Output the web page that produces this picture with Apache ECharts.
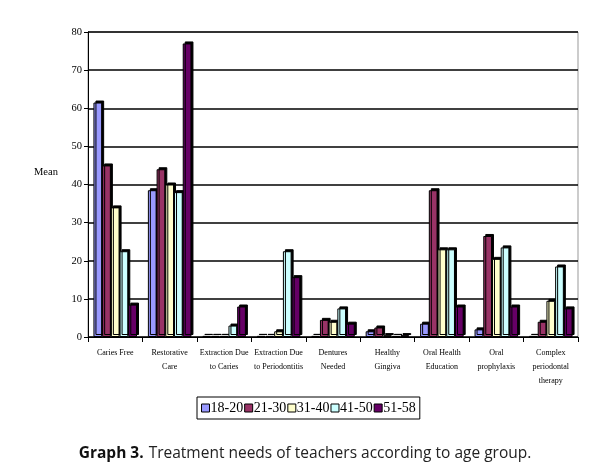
<!DOCTYPE html>
<html><head><meta charset="utf-8">
<script src="https://cdn.jsdelivr.net/npm/echarts@6/dist/echarts.min.js"></script>
<style>html,body{margin:0;padding:0;background:#fff}#c{width:610px;height:472px}</style>
</head><body><div id="c"></div>
<script>
const categories = ["Caries Free","Restorative\nCare","Extraction Due\nto Caries","Extraction Due\nto Periodontitis","Dentures\nNeeded","Healthy\nGingiva","Oral Health\nEducation","Oral\nprophylaxis","Complex\nperiodontal\ntherapy"];
const seriesNames = ["18-20","21-30","31-40","41-50","51-58"];
const s18_20 = [61.5, 38.5, 0.3, 0.3, 0.3, 1.5, 3.5, 2, 0.3];
const s21_30 = [45, 44, 0.3, 0.3, 4.5, 2.5, 38.5, 26.5, 4];
const s31_40 = [34, 40, 0.3, 1.5, 4, 0.5, 23, 20.5, 9.5];
const s41_50 = [22.5, 38, 3, 22.5, 7.5, 0.3, 23, 23.5, 18.5];
const s51_58 = [8.5, 77, 8, 15.7, 3.5, 0.5, 8, 8, 7.5];
const yTicks = [0,10,20,30,40,50,60,70,80];
const colors = ["#9999FF","#993366","#FFFFCC","#CCFFFF","#660066"];
const values = [s18_20, s21_30, s31_40, s41_50, s51_58];

const chart = echarts.init(document.getElementById('c'));
chart.setOption({
  animation: false,
  backgroundColor: '#fff',
  color: colors,
  title: [{
    text: '{b|Graph 3.} {n|Treatment needs of teachers according to age group.}',
    left: 'center', top: 440,
    textStyle: { fontWeight: 'normal', rich: {
      b: { fontFamily: 'Open Sans', fontWeight: 'bold', fontSize: 15.5, color: '#111' },
      n: { fontFamily: 'Open Sans', fontWeight: 'normal', fontSize: 15.5, color: '#222' }
    }}
  }, {
    text: 'Mean', left: 29, top: 162,
    textStyle: { fontFamily: 'Liberation Serif', fontWeight: 'normal', fontSize: 10.5, color: '#000' }
  }],
  legend: {
    data: seriesNames,
    left: 197, top: 397,
    orient: 'horizontal',
    itemWidth: 8, itemHeight: 8, itemGap: 1,
    icon: 'rect',
    padding: [4, 4, 4, 4],
    borderColor: '#000', borderWidth: 1,
    textStyle: { fontFamily: 'Liberation Serif', fontSize: 14, color: '#000', padding: [0,0,0,-4] },
    itemStyle: { borderColor: '#000', borderWidth: 1 }
  },
  grid: { left: 88, right: 32, top: 32, bottom: 135, show: true, borderColor: '#999', borderWidth: 1 },
  xAxis: {
    type: 'category', data: categories,
    axisLine: { lineStyle: { color: '#000', width: 1 } },
    axisTick: { show: true, length: 5, alignWithLabel: false, lineStyle: { color: '#000' } },
    axisLabel: { interval: 0, fontFamily: 'Liberation Serif', fontSize: 8, color: '#000', lineHeight: 14, margin: 9 }
  },
  yAxis: {
    type: 'value', min: 0, max: 80, interval: 10,
    axisLine: { show: true, lineStyle: { color: '#000' } },
    axisTick: { show: true, length: 4, lineStyle: { color: '#000' } },
    axisLabel: { fontFamily: 'Liberation Serif', fontSize: 10.5, color: '#000', margin: 6, formatter: v => yTicks.includes(v) ? String(v) : '' },
    splitLine: { show: true, lineStyle: { color: '#000', width: 1.5 } }
  },
  series: seriesNames.map((n, i) => ({
    name: n, type: 'bar', data: values[i],
    barGap: '0%', barCategoryGap: '20%',
    itemStyle: { color: colors[i], borderColor: '#000', borderWidth: 1,
      shadowColor: '#000', shadowBlur: 0, shadowOffsetX: 2, shadowOffsetY: -2 }
  }))
});
</script></body></html>
